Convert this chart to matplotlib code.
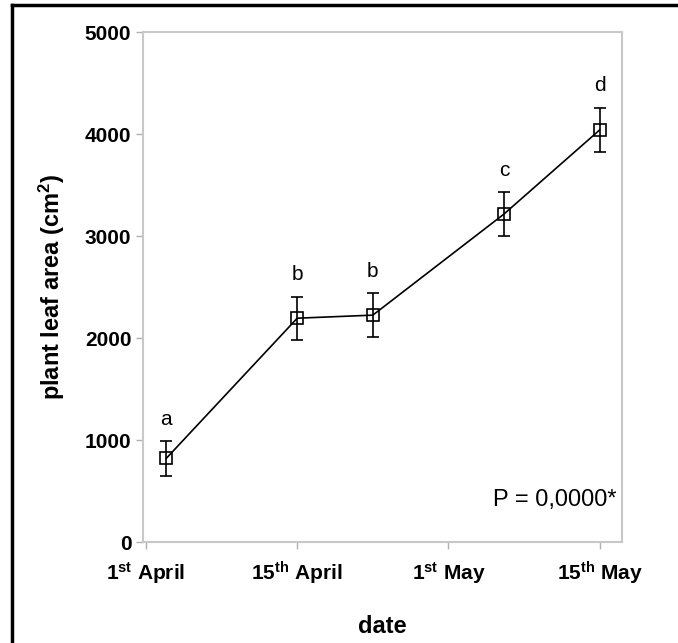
import matplotlib.pyplot as plt
from matplotlib.lines import Line2D

plt.rcParams['font.family'] = ['Liberation Sans', 'DejaVu Sans']
plt.rcParams['mathtext.fontset'] = 'custom'
plt.rcParams['mathtext.rm'] = 'Liberation Sans:bold'
plt.rcParams['mathtext.it'] = 'Liberation Sans:bold'
plt.rcParams['mathtext.bf'] = 'Liberation Sans:bold'

# dias desde el 1 de abril
dias = [2, 15, 22.5, 35.5, 45]
area = [820, 2195, 2225, 3215, 4040]
error = [170, 210, 215, 215, 220]
letras = ['a', 'b', 'b', 'c', 'd']

ticks_dias = [0, 15, 30, 45]
ticks_labels = [r'1$^{\mathrm{st}}$ April', r'15$^{\mathrm{th}}$ April',
                r'1$^{\mathrm{st}}$ May', r'15$^{\mathrm{th}}$ May']

fig = plt.figure(figsize=(6.78, 6.43), dpi=100)
ax = fig.add_axes([0.211, 0.157, 0.706, 0.793])

ax.errorbar(dias, area, yerr=error, color='black', lw=1.2, elinewidth=1.2,
            capsize=4, capthick=2.5, marker='s', markersize=9,
            markerfacecolor='none', markeredgecolor='black', markeredgewidth=1.2)

for x, y, e, l in zip(dias, area, error, letras):
    ax.annotate(l, (x, y + e), xytext=(0, 9), textcoords='offset points',
                ha='center', va='bottom', fontsize=15)

ax.text(0.99, 0.07, 'P = 0,0000*', transform=ax.transAxes, ha='right',
        va='baseline', fontsize=17)

ax.set_xlim(-0.3, 47.2)
ax.set_ylim(0, 5000)
ax.set_yticks([0, 1000, 2000, 3000, 4000, 5000])
ax.set_xticks(ticks_dias)
ax.set_xticklabels(ticks_labels)
for lab in ax.get_xticklabels() + ax.get_yticklabels():
    lab.set_fontweight('bold')
    lab.set_fontsize(15)

for s in ax.spines.values():
    s.set_color('#c8c8c8')
    s.set_linewidth(1.5)
ax.tick_params(colors='#b0b0b0', length=5, width=1, labelcolor='black')
ax.tick_params(axis='x', pad=8)

ax.set_xlabel('date', fontsize=17, fontweight='bold', labelpad=20)
ax.set_ylabel('plant leaf area (cm$^2$)', fontsize=17, fontweight='bold', labelpad=13)

# marco de la figura (solo arriba e izquierda)
fig.add_artist(Line2D([12 / 678, 1], [1 - 5 / 643] * 2, color='black', lw=2.5))
fig.add_artist(Line2D([12 / 678] * 2, [0, 1 - 5 / 643], color='black', lw=2.5))

plt.savefig('out.png', dpi=100)
